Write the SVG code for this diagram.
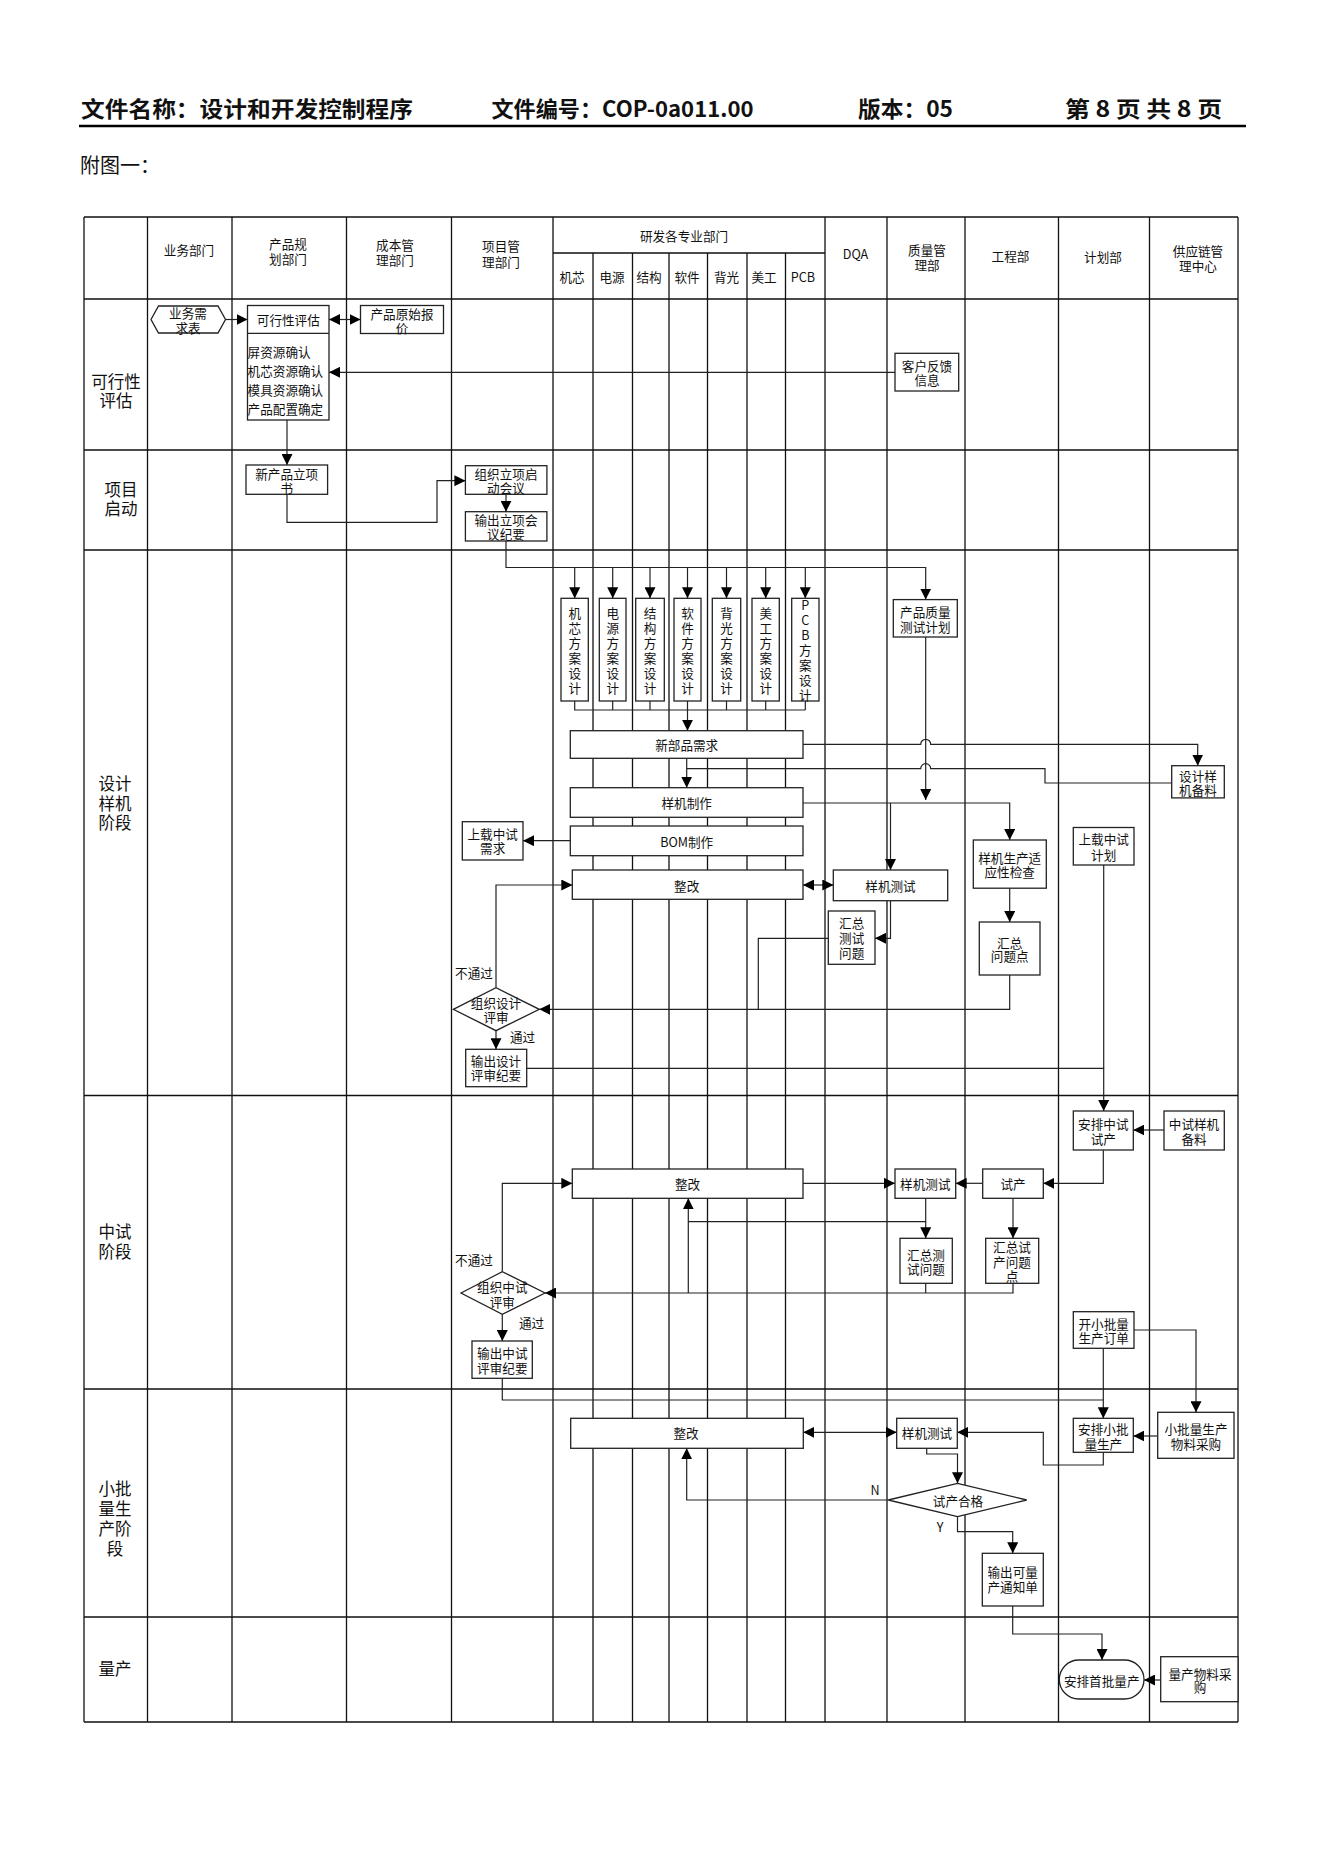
<svg xmlns="http://www.w3.org/2000/svg" width="1323" height="1870" viewBox="0 0 1323 1870">
<defs>
<style>
.g{stroke:#111;stroke-width:1.3;fill:none}
.b{fill:#fff;stroke:#222;stroke-width:1.3}
.c{fill:none;stroke:#222;stroke-width:1.2}
.a{marker-end:url(#ah)}
.s{marker-start:url(#ah)}
text{font-family:"Noto Sans CJK SC","Noto Sans",sans-serif;fill:#111}
.t{font-size:12.6px;text-anchor:middle;dominant-baseline:central}
.tl{font-size:12.6px;dominant-baseline:central}
.h{font-size:12.6px;text-anchor:middle;dominant-baseline:central}
.r{font-size:16.5px;text-anchor:middle;dominant-baseline:central}
.ti{font-size:22px;font-weight:700}
</style>
<marker id="ah" viewBox="0 0 11 11" refX="11" refY="5.5" markerWidth="11" markerHeight="11" markerUnits="userSpaceOnUse" orient="auto-start-reverse"><path d="M0,0 L11,5.5 L0,11 z" fill="#000"/></marker>
</defs>
<rect width="1323" height="1870" fill="#fff"/>

<g id="title">
<text class="ti" x="81" y="117" textLength="332" lengthAdjust="spacingAndGlyphs">文件名称：设计和开发控制程序</text>
<text class="ti" x="491.5" y="117" textLength="262" lengthAdjust="spacingAndGlyphs">文件编号：COP-0a011.00</text>
<text class="ti" x="858" y="117" textLength="95" lengthAdjust="spacingAndGlyphs">版本：05</text>
<text class="ti" x="1065" y="117" textLength="157" lengthAdjust="spacingAndGlyphs">第 8 页 共 8 页</text>
<line x1="79" y1="126" x2="1246" y2="126" stroke="#000" stroke-width="2.6"/>
<text x="80" y="173" font-size="20px">附图一：</text>
</g>

<g id="grid" class="g">
<path d="M84,217 H1238 M553,253 H825 M84,299 H1238 M84,450 H1238 M84,550 H1238 M84,1095.5 H1238 M84,1389 H1238 M84,1617 H1238 M84,1722 H1238"/>
<path d="M84,217 V1722 M147.5,217 V1722 M232,217 V1722 M346.5,217 V1722 M451.5,217 V1722 M553,217 V1722 M825,217 V1722 M887,217 V1722 M965,217 V1722 M1058.5,217 V1722 M1149.5,217 V1722 M1238,217 V1722"/>
<path d="M593,253 V1722 M632.5,253 V1722 M669,253 V1722 M707.5,253 V1722 M747,253 V1722 M785.5,253 V1722"/>
</g>

<g id="headers">
<text class="h" x="189" y="249">业务部门</text>
<text class="h"><tspan x="288" y="243">产品规</tspan><tspan x="288" y="257.5">划部门</tspan></text>
<text class="h"><tspan x="395" y="244">成本管</tspan><tspan x="395" y="259">理部门</tspan></text>
<text class="h"><tspan x="501" y="245">项目管</tspan><tspan x="501" y="260.5">理部门</tspan></text>
<text class="h" x="684" y="235">研发各专业部门</text>
<text class="h" x="572" y="276">机芯</text>
<text class="h" x="612" y="276">电源</text>
<text class="h" x="649" y="276">结构</text>
<text class="h" x="687" y="276">软件</text>
<text class="h" x="726.5" y="276">背光</text>
<text class="h" x="764" y="276">美工</text>
<text class="h" x="803" y="276">PCB</text>
<text class="h" x="855.5" y="253.5">DQA</text>
<text class="h"><tspan x="927" y="248.5">质量管</tspan><tspan x="927" y="263.5">理部</tspan></text>
<text class="h" x="1010.5" y="255.5">工程部</text>
<text class="h" x="1103" y="256.5">计划部</text>
<text class="h"><tspan x="1198" y="250">供应链管</tspan><tspan x="1198" y="265">理中心</tspan></text>
<text class="r"><tspan x="116" y="380.5">可行性</tspan><tspan x="116" y="399.5">评估</tspan></text>
<text class="r"><tspan x="121" y="489">项目</tspan><tspan x="121" y="507.5">启动</tspan></text>
<text class="r"><tspan x="115" y="782.5">设计</tspan><tspan x="115" y="802.5">样机</tspan><tspan x="115" y="822">阶段</tspan></text>
<text class="r"><tspan x="115" y="1231">中试</tspan><tspan x="115" y="1251">阶段</tspan></text>
<text class="r"><tspan x="115" y="1488">小批</tspan><tspan x="115" y="1508">量生</tspan><tspan x="115" y="1528">产阶</tspan><tspan x="115" y="1547.5">段</tspan></text>
<text class="r" x="115" y="1668">量产</text>
</g>

<g id="connectors">
<path class="c a" d="M225.5,319.5 H247.5"/>
<path class="c a s" d="M329,319.5 H360.5"/>
<path class="c a" d="M895,372.3 H329"/>
<path class="c a" d="M287,420 V465"/>
<path class="c a" d="M287,494.3 V522.3 H437 V480.7 H465.4"/>
<path class="c a" d="M506,494.3 V511.7"/>
<path class="c a" d="M506,541 V567.5 H925.7 V599.6"/>
<path class="c a" d="M574.7,567.5 V598.3"/>
<path class="c a" d="M612.7,567.5 V598.3"/>
<path class="c a" d="M650,567.5 V598.3"/>
<path class="c a" d="M687.5,567.5 V598.3"/>
<path class="c a" d="M726.5,567.5 V598.3"/>
<path class="c a" d="M765.7,567.5 V598.3"/>
<path class="c a" d="M805.3,567.5 V598.3"/>
<path class="c" d="M574.7,701 V710 H805.3 M612.7,701 V710 M650,701 V710 M687.5,701 V710 M726.5,701 V710 M765.7,701 V710 M805.3,701 V710"/>
<path class="c a" d="M687.5,710 V730.7"/>
<path class="c a" d="M803,744.3 H920.7 a5,5 0 0 1 10,0 H1197.7 V765.7"/>
<path class="c a" d="M686.7,758.3 V787.7"/>
<path class="c" d="M1171.7,783 H1045 V768.6 H930.7 a5,5 0 0 0 -10,0 H686.7"/>
<path class="c a" d="M925.7,637 V800"/>
<path class="c a" d="M803,803 H1009.7 V840"/>
<path class="c a" d="M890.5,803 V870"/>
<path class="c a" d="M570.3,840.7 H523"/>
<path class="c a s" d="M803,885 H833.3"/>
<path class="c a" d="M890.5,900.7 V938.3 H875"/>
<path class="c" d="M828.3,938.3 H758.3 V1009.3"/>
<path class="c a" d="M1009.7,888.2 V922"/>
<path class="c a" d="M1009.7,975 V1009.3 H539.3"/>
<path class="c a" d="M496,987.7 V885 H572.3"/>
<path class="c a" d="M496,1030.7 V1049.3"/>
<path class="c a" d="M526.7,1068.3 H1103.7 V1111"/>
<path class="c" d="M1103.7,865 V1068.3"/>
<path class="c a" d="M1164,1130 H1133.3"/>
<path class="c a" d="M1103.3,1150 V1183.3 H1043.3"/>
<path class="c a" d="M982.7,1183.3 H955.7"/>
<path class="c a" d="M803,1183.3 H895"/>
<path class="c a" d="M925.7,1198.3 V1238.3"/>
<path class="c" d="M925.7,1221.7 H688.3"/>
<path class="c a" d="M688.3,1293 V1198.3"/>
<path class="c a" d="M1013,1198.3 V1238.3"/>
<path class="c" d="M925.7,1283.3 V1293"/>
<path class="c a" d="M1013,1283.3 V1293 H545"/>
<path class="c a" d="M502.3,1271.7 V1183.3 H572.3"/>
<path class="c a" d="M502.3,1314.3 V1341"/>
<path class="c a" d="M502.3,1378.3 V1400 H1103.3 V1418.3"/>
<path class="c" d="M1103.3,1348.3 V1400"/>
<path class="c a" d="M1134,1330 H1196 V1412.3"/>
<path class="c a" d="M1157.7,1436 H1133.3"/>
<path class="c a" d="M1103.3,1452.3 V1465 H1043.3 V1432.3 H957.3"/>
<path class="c a s" d="M803.3,1432.3 H896.7"/>
<path class="c a" d="M926.7,1448.3 V1454 H957.5 V1483.3"/>
<path class="c a" d="M888.3,1500 H686.7 V1448.3"/>
<path class="c a" d="M957.5,1516.7 V1531.7 H1012.7 V1553.3"/>
<path class="c a" d="M1012.7,1606 V1634 H1102 V1660"/>
<path class="c a" d="M1160.7,1680 H1144"/>
</g>

<g id="n-ywxqb"><polygon class="b" points="151,319.5 158.5,306 218,306 225.5,319.5 218,333 158.5,333"/><text class="t" font-size="12px"><tspan x="188" y="311.7">业务需</tspan><tspan x="188" y="326.7">求表</tspan></text></g>
<g id="n-kxxpg"><rect class="b" x="247.5" y="305.5" width="81.5" height="114.5"/><line class="c" x1="247.5" y1="333.3" x2="329" y2="333.3"/><text class="t" x="288.3" y="319.5">可行性评估</text><text class="tl"><tspan x="247.6" y="351">屏资源确认</tspan><tspan x="247.6" y="370">机芯资源确认</tspan><tspan x="247.6" y="389">模具资源确认</tspan><tspan x="247.6" y="407.5">产品配置确定</tspan></text></g>
<g id="n-cpysbj"><rect class="b" x="360.5" y="305.5" width="83" height="28"/><text class="t"><tspan x="402" y="312.5">产品原始报</tspan><tspan x="402" y="326.7">价</tspan></text></g>
<g id="n-khfkxx"><rect class="b" x="895" y="353.3" width="63.7" height="37.7"/><text class="t"><tspan x="927" y="365">客户反馈</tspan><tspan x="927" y="378.5">信息</tspan></text></g>
<g id="n-xcplxs"><rect class="b" x="246" y="465" width="81.6" height="29.3"/><text class="t"><tspan x="286.7" y="473.3">新产品立项</tspan><tspan x="286.7" y="487.3">书</tspan></text></g>
<g id="n-zzlxqdhy"><rect class="b" x="465.4" y="465.7" width="81.5" height="28.6"/><text class="t"><tspan x="506" y="473">组织立项启</tspan><tspan x="506" y="487">动会议</tspan></text></g>
<g id="n-sclxhyjy"><rect class="b" x="465.4" y="511.7" width="81.5" height="29.3"/><text class="t"><tspan x="506" y="519">输出立项会</tspan><tspan x="506" y="532.7">议纪要</tspan></text></g>
<g id="n-cpzlcsjh"><rect class="b" x="893.3" y="599.6" width="64" height="37.4"/><text class="t"><tspan x="925.3" y="610.7">产品质量</tspan><tspan x="925.3" y="625.7">测试计划</tspan></text></g>

<g id="n-jxfa"><rect class="b" x="561" y="598.3" width="27.3" height="102.7"/><text class="t"><tspan x="574.7" y="611.7">机</tspan><tspan x="574.7" y="626.7">芯</tspan><tspan x="574.7" y="641.7">方</tspan><tspan x="574.7" y="656.7">案</tspan><tspan x="574.7" y="671.7">设</tspan><tspan x="574.7" y="686.7">计</tspan></text></g>
<g id="n-dyfa"><rect class="b" x="599.3" y="598.3" width="26.7" height="102.7"/><text class="t"><tspan x="612.7" y="611.7">电</tspan><tspan x="612.7" y="626.7">源</tspan><tspan x="612.7" y="641.7">方</tspan><tspan x="612.7" y="656.7">案</tspan><tspan x="612.7" y="671.7">设</tspan><tspan x="612.7" y="686.7">计</tspan></text></g>
<g id="n-jgfa"><rect class="b" x="635.7" y="598.3" width="28.6" height="102.7"/><text class="t"><tspan x="650" y="611.7">结</tspan><tspan x="650" y="626.7">构</tspan><tspan x="650" y="641.7">方</tspan><tspan x="650" y="656.7">案</tspan><tspan x="650" y="671.7">设</tspan><tspan x="650" y="686.7">计</tspan></text></g>
<g id="n-rjfa"><rect class="b" x="674" y="598.3" width="27" height="102.7"/><text class="t"><tspan x="687.5" y="611.7">软</tspan><tspan x="687.5" y="626.7">件</tspan><tspan x="687.5" y="641.7">方</tspan><tspan x="687.5" y="656.7">案</tspan><tspan x="687.5" y="671.7">设</tspan><tspan x="687.5" y="686.7">计</tspan></text></g>
<g id="n-bgfa"><rect class="b" x="712.3" y="598.3" width="28.4" height="102.7"/><text class="t"><tspan x="726.5" y="611.7">背</tspan><tspan x="726.5" y="626.7">光</tspan><tspan x="726.5" y="641.7">方</tspan><tspan x="726.5" y="656.7">案</tspan><tspan x="726.5" y="671.7">设</tspan><tspan x="726.5" y="686.7">计</tspan></text></g>
<g id="n-mgfa"><rect class="b" x="752" y="598.3" width="27.3" height="102.7"/><text class="t"><tspan x="765.7" y="611.7">美</tspan><tspan x="765.7" y="626.7">工</tspan><tspan x="765.7" y="641.7">方</tspan><tspan x="765.7" y="656.7">案</tspan><tspan x="765.7" y="671.7">设</tspan><tspan x="765.7" y="686.7">计</tspan></text></g>
<g id="n-pcbfa"><rect class="b" x="791.7" y="598.3" width="27.3" height="102.7"/><text class="t"><tspan x="805.3" y="604">P</tspan><tspan x="805.3" y="619">C</tspan><tspan x="805.3" y="634">B</tspan><tspan x="805.3" y="649">方</tspan><tspan x="805.3" y="664">案</tspan><tspan x="805.3" y="679">设</tspan><tspan x="805.3" y="693.5">计</tspan></text></g>

<g id="n-xbpxq"><rect class="b" x="570.3" y="730.7" width="232.7" height="27.6"/><text class="t" x="686.7" y="744.5">新部品需求</text></g>
<g id="n-yjzz"><rect class="b" x="570.3" y="787.7" width="232.7" height="29.6"/><text class="t" x="686.7" y="802.5">样机制作</text></g>
<g id="n-bom"><rect class="b" x="570.3" y="826" width="232.7" height="29.7"/><text class="t" x="686.7" y="841">BOM制作</text></g>
<g id="n-szzsxq"><rect class="b" x="462.3" y="821.7" width="60.7" height="38.3"/><text class="t"><tspan x="492.7" y="832.7">上载中试</tspan><tspan x="492.7" y="847.3">需求</tspan></text></g>
<g id="n-zg1"><rect class="b" x="572.3" y="870" width="230.7" height="29.3"/><text class="t" x="686.7" y="885">整改</text></g>
<g id="n-yjcs1"><rect class="b" x="833.3" y="870" width="114.4" height="30.7"/><text class="t" x="890.5" y="885.3">样机测试</text></g>
<g id="n-hzcswt1"><rect class="b" x="828.3" y="911" width="46.7" height="53.3"/><text class="t"><tspan x="851.7" y="921.7">汇总</tspan><tspan x="851.7" y="937">测试</tspan><tspan x="851.7" y="951.7">问题</tspan></text></g>
<g id="n-yjscsyxjc"><rect class="b" x="973.3" y="840" width="73" height="48.2"/><text class="t"><tspan x="1009.7" y="856.8">样机生产适</tspan><tspan x="1009.7" y="871.4">应性检查</tspan></text></g>
<g id="n-hzwtd"><rect class="b" x="979.3" y="922" width="60.7" height="53"/><text class="t"><tspan x="1009.7" y="941.8">汇总</tspan><tspan x="1009.7" y="955.4">问题点</tspan></text></g>
<g id="n-szzsjh"><rect class="b" x="1073.3" y="827.5" width="60.7" height="37.5"/><text class="t"><tspan x="1103.7" y="838.2">上载中试</tspan><tspan x="1103.7" y="853.6">计划</tspan></text></g>
<g id="n-sjyjbl"><rect class="b" x="1171.7" y="765.7" width="52.6" height="32.2"/><text class="t"><tspan x="1198" y="774.6">设计样</tspan><tspan x="1198" y="789">机备料</tspan></text></g>
<g id="n-zzsjps"><polygon class="b" points="453.3,1009.3 496,987.7 539.3,1009.3 496,1030.7"/><text class="t"><tspan x="496" y="1002.3">组织设计</tspan><tspan x="496" y="1015.7">评审</tspan></text></g>
<g id="n-scsjpsjy"><rect class="b" x="465.7" y="1049.3" width="61" height="37.4"/><text class="t"><tspan x="496" y="1060">输出设计</tspan><tspan x="496" y="1074.3">评审纪要</tspan></text></g>
<g id="l-btg1"><text class="t" x="474" y="972">不通过</text></g>
<g id="l-tg1"><text class="t" x="522.5" y="1036.7">通过</text></g>

<g id="n-apzssc"><rect class="b" x="1073.3" y="1111" width="60" height="39"/><text class="t"><tspan x="1103.3" y="1123.3">安排中试</tspan><tspan x="1103.3" y="1137.7">试产</tspan></text></g>
<g id="n-zsyjbl"><rect class="b" x="1164" y="1111" width="60.3" height="39"/><text class="t"><tspan x="1194" y="1123.3">中试样机</tspan><tspan x="1194" y="1137.7">备料</tspan></text></g>
<g id="n-sc"><rect class="b" x="982.7" y="1169" width="60.6" height="29.3"/><text class="t" x="1013" y="1183.3">试产</text></g>
<g id="n-yjcs2"><rect class="b" x="895" y="1169" width="60.7" height="29.3"/><text class="t" x="925.3" y="1183.3">样机测试</text></g>
<g id="n-zg2"><rect class="b" x="572.3" y="1169" width="230.7" height="29.3"/><text class="t" x="687.5" y="1183.3">整改</text></g>
<g id="n-hzcswt2"><rect class="b" x="900" y="1238.3" width="52.3" height="45"/><text class="t"><tspan x="926" y="1254">汇总测</tspan><tspan x="926" y="1267.7">试问题</tspan></text></g>
<g id="n-hzscwtd"><rect class="b" x="985.7" y="1238.3" width="53" height="45"/><text class="t"><tspan x="1012" y="1246">汇总试</tspan><tspan x="1012" y="1260.7">产问题</tspan><tspan x="1012" y="1275">点</tspan></text></g>
<g id="n-zzzsps"><polygon class="b" points="461,1293 502.3,1271.7 545,1293 502.3,1314.3"/><text class="t"><tspan x="502.3" y="1285.7">组织中试</tspan><tspan x="502.3" y="1300.7">评审</tspan></text></g>
<g id="n-sczspsjy"><rect class="b" x="472" y="1341" width="60.3" height="37.3"/><text class="t"><tspan x="502.3" y="1351.7">输出中试</tspan><tspan x="502.3" y="1366.7">评审纪要</tspan></text></g>
<g id="n-kxplscdd"><rect class="b" x="1073.3" y="1311.7" width="60.7" height="36.6"/><text class="t"><tspan x="1103.7" y="1322.7">开小批量</tspan><tspan x="1103.7" y="1336.7">生产订单</tspan></text></g>
<g id="l-btg2"><text class="t" x="474" y="1259.3">不通过</text></g>
<g id="l-tg2"><text class="t" x="531.5" y="1322.7">通过</text></g>

<g id="n-apxplsc"><rect class="b" x="1073.3" y="1418.3" width="60" height="34"/><text class="t"><tspan x="1103.3" y="1428.3">安排小批</tspan><tspan x="1103.3" y="1442.7">量生产</tspan></text></g>
<g id="n-xplscwlcg"><rect class="b" x="1157.7" y="1412.3" width="76.3" height="46"/><text class="t"><tspan x="1196" y="1428.3">小批量生产</tspan><tspan x="1196" y="1442.7">物料采购</tspan></text></g>
<g id="n-yjcs3"><rect class="b" x="896.7" y="1418.3" width="60.6" height="30"/><text class="t" x="927" y="1432.3">样机测试</text></g>
<g id="n-zg3"><rect class="b" x="570.7" y="1418.3" width="232.6" height="30"/><text class="t" x="686" y="1432.3">整改</text></g>
<g id="n-scgg"><polygon class="b" points="888.3,1500 957.5,1483.3 1026.7,1500 957.5,1516.7"/><text class="t" x="958" y="1500">试产合格</text></g>
<g id="l-n"><text class="t" x="875" y="1489.3" font-size="12px">N</text></g>
<g id="l-y"><text class="t" x="940" y="1526.7" font-size="12px">Y</text></g>
<g id="n-sckltzd"><rect class="b" x="982.3" y="1553.3" width="61" height="52.7"/><text class="t"><tspan x="1012.7" y="1571">输出可量</tspan><tspan x="1012.7" y="1585.7">产通知单</tspan></text></g>

<g id="n-apsplc"><rect class="b" x="1059.3" y="1660" width="84.7" height="39" rx="19.5" ry="19.5"/><text class="t" x="1101.7" y="1680.5">安排首批量产</text></g>
<g id="n-lcwlcg"><rect class="b" x="1160.7" y="1656.7" width="77.3" height="45"/><text class="t"><tspan x="1200" y="1672.7">量产物料采</tspan><tspan x="1200" y="1686">购</tspan></text></g>
</svg>
